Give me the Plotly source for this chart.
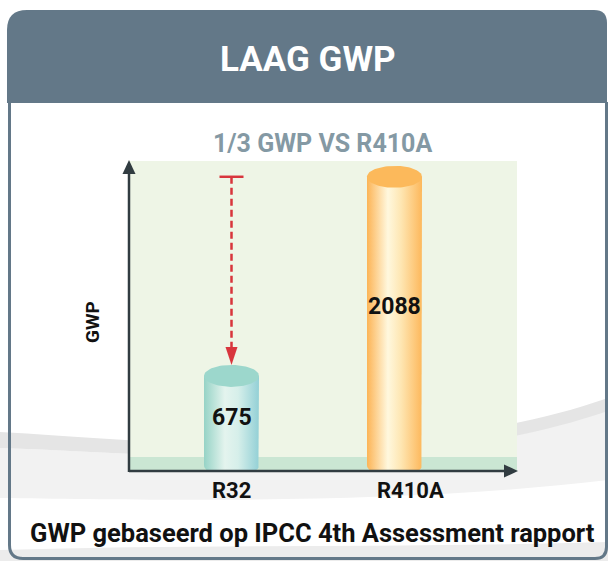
import numpy as np
import plotly.graph_objects as go

# ---------------- data ----------------
categories = ["R32", "R410A"]
gwp_values = [675, 2088]
label_frac = 0.56          # value label sits at this fraction of bar height
top_colors = ["#9cd7cc", "#fcb95b"]
body_scales = [
    [[0.0, "#96d3c6"], [0.38, "#e4f4ee"], [0.62, "#d6efea"], [1.0, "#93d0d6"]],
    [[0.0, "#fcb456"], [0.38, "#fff8de"], [0.62, "#fee6b2"], [1.0, "#fdb85c"]],
]
title_text = "LAAG GWP"
subtitle_text = "1/3 GWP VS R410A"
y_label = "GWP"
footer_text = "GWP gebaseerd op IPCC 4th Assessment rapport"
y_max = 2200

# ---------------- geometry helpers ----------------
W, H = 608, 561
L, R, T, B = 129, 517, 161, 471          # plot box in pixels
c0, c1 = 231.5, 394.5                    # category centers in pixels
ux = c1 - c0                             # px per x unit
x_range = [-(c0 - L) / ux, 1 + (R - c1) / ux]
uy = (B - T) / y_max                     # px per y unit

def px(x):
    return x / W

def py(y):
    return 1 - y / H

def ppath(cmds):
    out = []
    for c in cmds:
        if isinstance(c, str):
            out.append(c)
        else:
            out.append(f"{px(c[0]):.5f},{py(c[1]):.5f}")
    return " ".join(out)

bar_w = 55 / ux
ry = 11 / uy            # ellipse half-height in data units
rcx, rcy = 6 / ux, 6 / uy

fig = go.Figure()

# ---------------- cylinders ----------------
for i, (cat, v) in enumerate(zip(categories, gwp_values)):
    x0, x1 = i - bar_w / 2, i + bar_w / 2
    t = np.linspace(0, np.pi / 2, 8)
    xs = [x0, x0, x1]
    ys = [rcy, v, v]
    xs += list(x1 - rcx + rcx * np.cos(t))
    ys += list(rcy - rcy * np.sin(t))
    xs += list(x0 + rcx - rcx * np.sin(t))
    ys += list(rcy - rcy * np.cos(t))
    fig.add_trace(go.Scatter(
        x=xs, y=ys, mode="lines", fill="toself",
        line=dict(width=0, color="rgba(0,0,0,0)"),
        fillgradient=dict(type="horizontal", colorscale=body_scales[i]),
        hoverinfo="skip", showlegend=False))
    th = np.linspace(0, 2 * np.pi, 80)
    fig.add_trace(go.Scatter(
        x=i + bar_w / 2 * np.cos(th), y=v + ry * np.sin(th),
        mode="lines", fill="toself", fillcolor=top_colors[i],
        line=dict(width=0, color=top_colors[i]),
        hoverinfo="skip", showlegend=False))

# ---------------- red dashed arrow (R410A level -> R32 top) ----------------
red = "#d8353d"
ax_x = 0
tip_y = gwp_values[0] + ry
head_h, head_w = 18 / uy, 6 / ux
fig.add_trace(go.Scatter(
    x=[ax_x, ax_x], y=[gwp_values[1], tip_y + head_h],
    mode="lines", line=dict(color=red, width=2.5, dash="7px,4px"),
    hoverinfo="skip", showlegend=False))
fig.add_trace(go.Scatter(
    x=[ax_x - 12 / ux, ax_x + 12 / ux], y=[gwp_values[1], gwp_values[1]],
    mode="lines", line=dict(color=red, width=2.5),
    hoverinfo="skip", showlegend=False))
fig.add_trace(go.Scatter(
    x=[ax_x - head_w, ax_x + head_w, ax_x, ax_x - head_w],
    y=[tip_y + head_h, tip_y + head_h, tip_y, tip_y + head_h],
    mode="lines", fill="toself", fillcolor=red,
    line=dict(width=0, color=red), hoverinfo="skip", showlegend=False))

# ---------------- shapes: background decoration, card, plot area ----------------
slate = "#637888"
shapes = []
shapes.append(dict(type="path", xref="paper", yref="paper", layer="below",
                   path=ppath(["M", (0, 448), "C", (150, 452), (400, 482), (608, 410),
                               "L", (608, 480), "C", (400, 505), (150, 500), (0, 498), "Z"]),
                   fillcolor="#f2f2f2", line=dict(width=0)))
shapes.append(dict(type="path", xref="paper", yref="paper", layer="below",
                   path=ppath(["M", (0, 432), "C", (150, 440), (400, 470), (608, 398),
                               "L", (608, 411), "C", (400, 482), (150, 452), (0, 448), "Z"]),
                   fillcolor="#e5e5e5", line=dict(width=0)))
shapes.append(dict(type="path", xref="paper", yref="paper", layer="below",
                   path=ppath(["M", (0, 550), "C", (200, 544), (400, 548), (608, 542),
                               "L", (608, 561), "L", (0, 561), "Z"]),
                   fillcolor="#ececec", line=dict(width=0)))
shapes.append(dict(type="path", xref="paper", yref="paper", layer="below",
                   path=ppath(["M", (7, 103), "L", (7, 30), "Q", (7, 10), (27, 10),
                               "L", (594, 10), "Q", (607, 10), (607, 23),
                               "L", (607, 103), "Z"]),
                   fillcolor=slate, line=dict(width=0)))
shapes.append(dict(type="path", xref="paper", yref="paper", layer="below",
                   path=ppath(["M", (9.5, 102), "L", (9.5, 545), "Q", (9.5, 558.5), (23, 558.5),
                               "L", (595, 558.5), "Q", (606.5, 558.5), (606.5, 547),
                               "L", (606.5, 102)]),
                   line=dict(color=slate, width=3)))
shapes.append(dict(type="rect", xref="x domain", yref="y domain", layer="below",
                   x0=0, x1=1, y0=0, y1=1, fillcolor="#eef5e6", line=dict(width=0)))
shapes.append(dict(type="rect", xref="x domain", yref="y domain", layer="below",
                   x0=0, x1=1, y0=0, y1=(B - 457) / (B - T),
                   fillcolor="#cae6d3", line=dict(width=0)))
axc = "#313c41"
shapes.append(dict(type="line", xref="paper", yref="paper", layer="above",
                   x0=px(L), x1=px(R - 6), y0=py(B), y1=py(B), line=dict(color=axc, width=2.5)))
shapes.append(dict(type="line", xref="paper", yref="paper", layer="above",
                   x0=px(L), x1=px(L), y0=py(B + 1), y1=py(T + 6), line=dict(color=axc, width=2.5)))
shapes.append(dict(type="path", xref="paper", yref="paper", layer="above",
                   path=ppath(["M", (R - 13, B - 6.5), "L", (R + 1, B), "L", (R - 13, B + 6.5), "Z"]),
                   fillcolor=axc, line=dict(width=0)))
shapes.append(dict(type="path", xref="paper", yref="paper", layer="above",
                   path=ppath(["M", (L - 6.5, T + 13), "L", (L, T - 1), "L", (L + 6.5, T + 13), "Z"]),
                   fillcolor=axc, line=dict(width=0)))

# ---------------- annotations ----------------
fam = "Roboto, 'Open Sans', sans-serif"
ann = []
ann.append(dict(text=title_text, xref="paper", yref="paper", x=px(308), y=py(59),
                showarrow=False, xanchor="center", yanchor="middle",
                font=dict(family=fam, size=35, color="white", weight="bold")))
ann.append(dict(text=subtitle_text, xref="paper", yref="paper", x=px(322), y=py(143),
                showarrow=False, xanchor="center", yanchor="middle",
                font=dict(family=fam, size=25, color="#8499a4", weight="bold")))
ann.append(dict(text=y_label, xref="paper", yref="paper", x=px(92), y=py(322),
                showarrow=False, xanchor="center", yanchor="middle", textangle=-90,
                font=dict(family=fam, size=19, color="#111111", weight="bold")))
ann.append(dict(text=footer_text, xref="paper", yref="paper", x=px(312), y=py(533),
                showarrow=False, xanchor="center", yanchor="middle",
                font=dict(family=fam, size=25.5, color="#111111", weight="bold")))
label_shift = [0, 16]
for i, (cat, v) in enumerate(zip(categories, gwp_values)):
    ann.append(dict(text=str(v), x=i, y=v * label_frac, xref="x", yref="y",
                    showarrow=False, xanchor="center", yanchor="middle",
                    font=dict(family=fam, size=23, color="#111111", weight="bold")))
    ann.append(dict(text=cat, x=i, y=0, xref="x", yref="y", yshift=-19,
                    xshift=label_shift[i], showarrow=False,
                    xanchor="center", yanchor="middle",
                    font=dict(family=fam, size=22, color="#111111", weight="bold")))

fig.update_layout(
    width=W, height=H, autosize=False,
    margin=dict(l=0, r=0, t=0, b=0),
    paper_bgcolor="white", plot_bgcolor="rgba(0,0,0,0)",
    shapes=shapes, annotations=ann, showlegend=False,
    xaxis=dict(domain=[px(L), px(R)], range=x_range, visible=False, fixedrange=True),
    yaxis=dict(domain=[py(B), py(T)], range=[0, y_max], visible=False, fixedrange=True),
)

fig.write_html("out.html", config={"displayModeBar": False},
               post_script="document.body.style.margin='0';document.body.style.overflow='hidden';")
